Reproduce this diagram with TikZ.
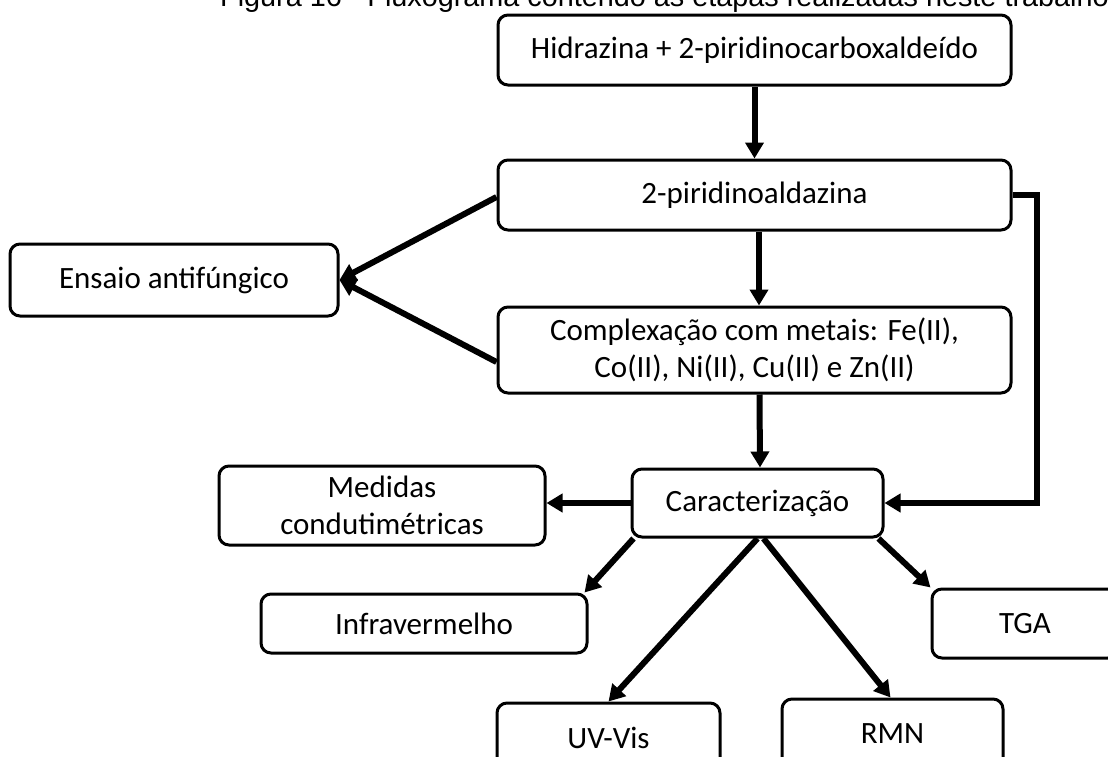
\documentclass[tikz,border=0pt]{standalone}
\usepackage{fontspec}
\setmainfont{Carlito}
\newfontfamily\titlefont{Liberation Sans}
\usetikzlibrary{arrows.meta}
\begin{document}
\begin{tikzpicture}[x=1pt,y=-1pt,
  box/.style={draw, line width=3pt, rounded corners=10pt, align=center, inner sep=0pt,
    font=\fontsize{31}{37}\selectfont},
  arr/.style={line width=6pt, -{Triangle[length=16pt,width=18pt]}, line join=miter}]
\useasboundingbox (0,0) rectangle (1108,756);
\clip (0,0) rectangle (1108,756);
\fill[white] (0,0) rectangle (1108,756);
\node[anchor=base west, inner sep=0pt, font=\titlefont\fontsize{28.8}{30}\selectfont] (title) at (220,6) {Figura 16 - Fluxograma contendo as etapas realizadas neste trabalho};
\node[box, minimum width=513pt, minimum height=70pt] (A) at (754.5,50) {Hidrazina + 2-piridinocarboxaldeído};
\node[box, minimum width=513pt, minimum height=70pt] (B) at (754.5,195) {2-piridinoaldazina};
\node[box, minimum width=513pt, minimum height=86pt] (C) at (754.5,350) {Complexação com metais: Fe(II),\\Co(II), Ni(II), Cu(II) e Zn(II)};
\node[box, minimum width=251pt, minimum height=68pt] (D) at (757.5,503) {Caracterização};
\node[box, minimum width=328pt, minimum height=72pt] (E) at (174,280) {Ensaio antifúngico};
\node[box, minimum width=326pt, minimum height=79pt] (M) at (382,505.5) {Medidas\\condutimétricas};
\node[box, minimum width=326pt, minimum height=59pt] (I) at (424,623.5) {Infravermelho};
\node[box, minimum width=186pt, minimum height=69pt] (T) at (1025,623.5) {TGA};
\node[box, minimum width=223pt, minimum height=70pt] (U) at (608.5,738) {UV-Vis};
\node[box, minimum width=221pt, minimum height=70pt] (R) at (892.5,734) {RMN};
\coordinate (r1) at (1037,195);
\draw[arr] (A.south) -- (B.north);
\draw[arr] ([xshift=4.5pt]B.south) -- ([xshift=4.5pt]C.north);
\draw[arr] ([xshift=5pt]C.south) -- ([xshift=2.5pt]D.north);
\draw[arr] (B.east) -- (r1) |- (D.east);
\draw[arr] ([yshift=-2pt]B.west) -- (E.east);
\draw[arr] ([yshift=-12pt]C.west) -- (E.east);
\draw[arr] (D.west) -- (D.west -| M.east);
\draw[arr] ([xshift=3pt]D.south west) -- ([xshift=-4pt]I.north east);
\draw[arr] (D.south) -- (U.north);
\draw[arr] ([xshift=6pt]D.south) -- ([xshift=-2pt]R.north);
\draw[arr] ([xshift=-6pt]D.south east) -- (T.north west);
\end{tikzpicture}
\end{document}
